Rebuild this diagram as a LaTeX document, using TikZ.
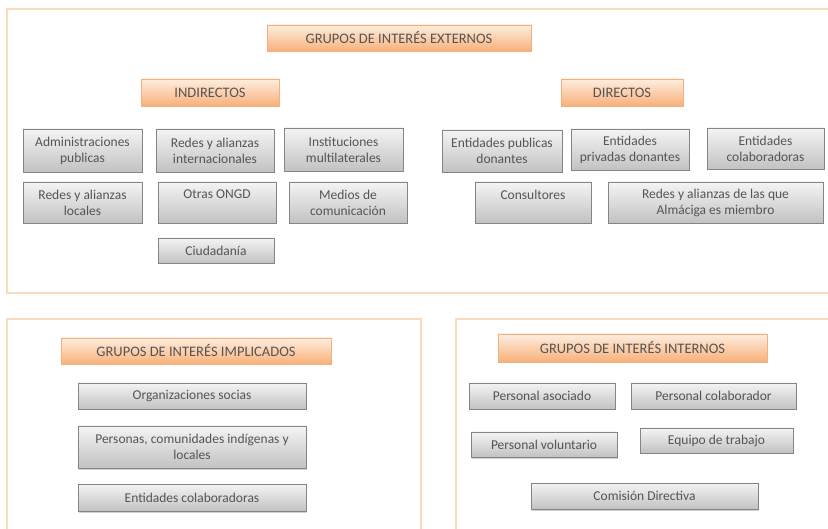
\documentclass[tikz,border=0pt]{standalone}
\usepackage{fontspec}
\setmainfont{Carlito}
\usetikzlibrary{shapes,positioning,shadows}

\definecolor{framec}{HTML}{F9DCBE}
\definecolor{hdrtop}{HTML}{FEEEDF}
\definecolor{hdrbot}{HTML}{F8B07A}
\definecolor{hdrline}{HTML}{F3B07C}
\definecolor{boxtop}{HTML}{F4F4F4}
\definecolor{boxbot}{HTML}{C2C2C2}
\definecolor{boxline}{HTML}{858585}
\definecolor{txt}{HTML}{555555}

\begin{document}
\begin{tikzpicture}[x=1pt, y=-1pt]
\tikzstyle{frame} = [draw=framec, line width=2pt]
\tikzstyle{header} = [rectangle, draw=hdrline, line width=0.5pt, top color=hdrtop, bottom color=hdrbot, text=txt, align=center, inner sep=0pt, font=\fontsize{14.5}{17}\selectfont, drop shadow={shadow xshift=1pt, shadow yshift=-1.5pt, opacity=0.3}]
\tikzstyle{member} = [rectangle, draw=boxline, line width=0.5pt, top color=boxtop, bottom color=boxbot, text=txt, align=center, inner sep=0pt, font=\fontsize{13.5}{16}\selectfont, drop shadow={shadow xshift=1pt, shadow yshift=-1.5pt, opacity=0.35}]

\clip (0,0) rectangle (828,529);
\fill[white] (0,0) rectangle (828,529);

% frames
\draw [frame] (7,9) rectangle (840,293);
\draw [frame] (7,319) rectangle (421,540);
\draw [frame] (456,319) rectangle (840,540);

% external groups
\node [header, minimum width=264, minimum height=26] (hext) at (399,38) {GRUPOS DE INTERÉS EXTERNOS};
\node [header, minimum width=138, minimum height=27] (hind) at (210,92.5) {INDIRECTOS};
\node [header, minimum width=122, minimum height=27] (hdir) at (622,92.5) {DIRECTOS};

\node [member, minimum width=119, minimum height=43] (admin) at (82.5,150.5) {Administraciones\\publicas};
\node [member, minimum width=118, minimum height=43] (redint) at (215,150.5) {Redes y alianzas\\internacionales};
\node [member, minimum width=119, minimum height=43] (inst) at (343.5,149.5) {Instituciones\\multilaterales};
\node [member, minimum width=119, minimum height=41] (redloc) at (82.5,202.5) {Redes y alianzas\\locales};
\node [member, minimum width=118, minimum height=41] (ongd) at (217,202.5) {Otras ONGD\\\mbox{}};
\node [member, minimum width=118, minimum height=41] (medios) at (348,202.5) {Medios de\\comunicación};
\node [member, minimum width=116, minimum height=25] (ciud) at (216,250.5) {Ciudadanía};

\node [member, minimum width=120, minimum height=42] (pubdon) at (502,151) {Entidades publicas\\donantes};
\node [member, minimum width=118, minimum height=41] (privdon) at (630,149.5) {Entidades\\privadas donantes};
\node [member, minimum width=117, minimum height=41] (colab) at (765.5,148.5) {Entidades\\colaboradoras};
\node [member, minimum width=116, minimum height=41] (consult) at (533,202.5) {Consultores\\\mbox{}};
\node [member, minimum width=215, minimum height=41] (redmiem) at (715.5,202.5) {Redes y alianzas de las que\\Almáciga es miembro};

% implied groups
\node [header, minimum width=270, minimum height=26] (himp) at (196,351) {GRUPOS DE INTERÉS IMPLICADOS};
\node [member, minimum width=228, minimum height=26] (socias) at (192,396) {Organizaciones socias};
\node [member, minimum width=228, minimum height=42] (personas) at (192,447) {Personas, comunidades indígenas y\\locales};
\node [member, minimum width=228, minimum height=27] (entcol) at (192,497.5) {Entidades colaboradoras};

% internal groups
\node [header, minimum width=269, minimum height=28] (hint) at (632.5,348) {GRUPOS DE INTERÉS INTERNOS};
\node [member, minimum width=146, minimum height=26] (pasoc) at (542,396) {Personal asociado};
\node [member, minimum width=165, minimum height=26] (pcolab) at (713.5,396) {Personal colaborador};
\node [member, minimum width=146, minimum height=25] (pvolun) at (544,444.5) {Personal voluntario};
\node [member, minimum width=153, minimum height=25] (equipo) at (716.5,440.5) {Equipo de trabajo};
\node [member, minimum width=227, minimum height=26] (comision) at (644.5,496) {Comisión Directiva};
\end{tikzpicture}
\end{document}
